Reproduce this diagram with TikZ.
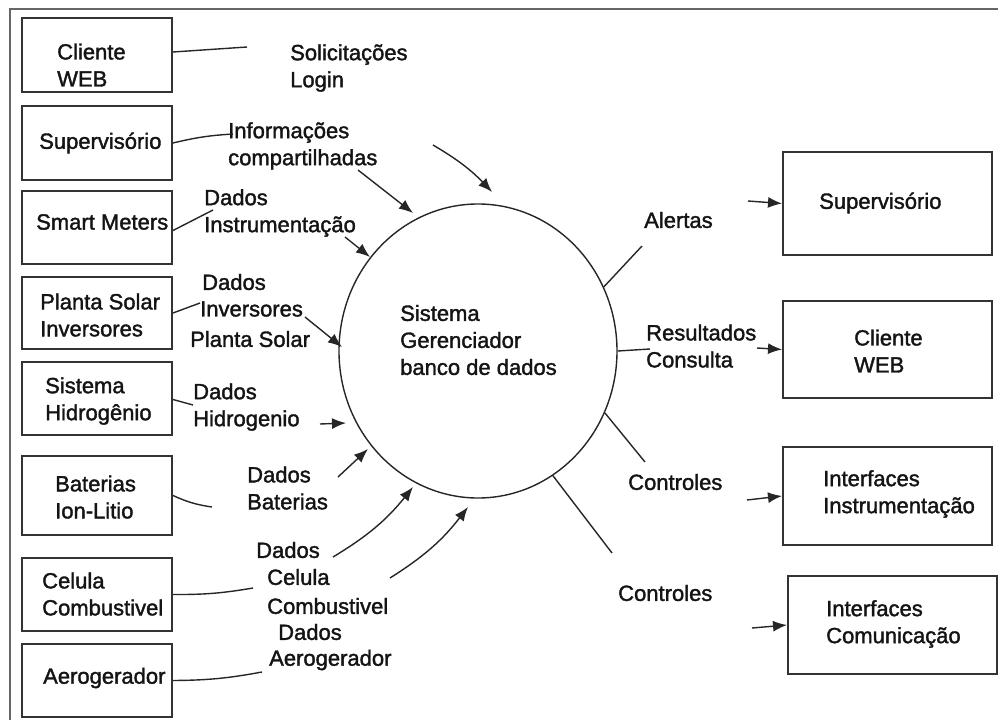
\documentclass[tikz,border=0pt]{standalone}
\usepackage{fontspec}
\setmainfont{Liberation Sans}
\newfontfamily\diafont{Liberation Sans}[FakeBold=1.6]
\usetikzlibrary{arrows.meta,shapes.geometric}
\begin{document}
\begin{tikzpicture}[x=1pt,y=-1pt,
  lbl/.style={font=\diafont\fontsize{22}{27}\selectfont, align=left, anchor=west, inner sep=0pt, text=black!92},
  box/.style={draw=black!80, line width=2pt, inner sep=0pt},
  lbox/.style={box, minimum width=150pt},
  rbox/.style={box, minimum width=209pt},
  wire/.style={draw=black!85, line width=1.4pt},
  flow/.style={wire, -{Latex[length=14pt,width=11pt]}},
]
\useasboundingbox (0,0) rectangle (998,720);
% outer frame (top and left edges)
\draw[black!60, line width=2pt] (10,720) -- (10,9) -- (998,9);

% ---- sources (left column)
\node[lbox, minimum height=74pt] (cw)  at (97,55)    {};
\node[lbox, minimum height=74pt] (sup) at (97,143)   {};
\node[lbox, minimum height=73pt] (sm)  at (97,227.5) {};
\node[lbox, minimum height=72pt] (ps)  at (97,313)   {};
\node[lbox, minimum height=73pt] (hid) at (97,398.5) {};
\node[lbox, minimum height=79pt] (bat) at (97,495.5) {};
\node[lbox, minimum height=73pt] (cel) at (97,594.5) {};
\node[lbox, minimum height=73pt] (aer) at (97,680.5) {};

\node[lbl] (tcw)  at (57,65)  {Cliente\\WEB};
\node[lbl] (tsup) at (39,143) {Supervisório};
\node[lbl] (tsm)  at (36,222) {Smart Meters};
\node[lbl] (tps)  at (40,315) {Planta Solar\\Inversores};
\node[lbl] (thid) at (45,401) {Sistema\\Hidrogênio};
\node[lbl] (tbat) at (55,497) {Baterias\\Ion-Litio};
\node[lbl] (tcel) at (42,594) {Celula\\Combustivel};
\node[lbl] (taer) at (43,678) {Aerogerador};

% ---- central process
\node[draw=black!85, line width=1.4pt, ellipse, minimum width=278pt, minimum height=294pt, inner sep=0pt] (db) at (478,351) {};
\node[lbl] (tdb) at (400,340) {Sistema\\Gerenciador\\banco de dados};

% ---- destinations (right column)
\node[rbox, minimum height=103pt] (rsup) at (887.5,203.5) {};
\node[rbox, minimum height=97pt]  (rcw)  at (887.5,349.5) {};
\node[rbox, minimum height=98pt]  (rii)  at (887.5,496)   {};
\node[rbox, minimum height=98pt]  (ric)  at (892.5,625)   {};

\node[lbl] (trsup) at (819,203) {Supervisório};
\node[lbl] (trcw)  at (854,351) {Cliente\\WEB};
\node[lbl] (trii)  at (823,494) {Interfaces\\Instrumentação};
\node[lbl] (tric)  at (826,624) {Interfaces\\Comunicação};

% ---- flow labels, input side
\node[lbl] (lsol) at (290,68)  {Solicitações\\Login};
\node[lbl] (linf) at (228,146) {Informações\\compartilhadas};
\node[lbl] (ldi)  at (204,213) {Dados\\Instrumentação};
\node[lbl] (lps1) at (202,282) {Dados};
\node[lbl] (lps2) at (200,309) {Inversores};
\node[lbl] (lps3) at (190,339) {Planta Solar};
\node[lbl] (ldh)  at (193,407) {Dados\\Hidrogenio};
\node[lbl] (ldb)  at (247,488) {Dados\\Baterias};
\node[lbl] (lc1)  at (256,550) {Dados};
\node[lbl] (lc2)  at (267,577) {Celula};
\node[lbl] (lc3)  at (267,606) {Combustivel};
\node[lbl] (lc4)  at (278,632) {Dados};
\node[lbl] (lc5)  at (269,660) {Aerogerador};

% ---- flow labels, output side
\node[lbl] (lal)  at (644,220) {Alertas};
\node[lbl] (lres) at (646,346) {Resultados\\Consulta};
\node[lbl] (lct1) at (628,482) {Controles};
\node[lbl] (lct2) at (618,593) {Controles};

% ---- free ends of the flows
\coordinate (e1) at (247,47);
\coordinate (e2) at (233,134);
\coordinate (e3) at (213,210);
\coordinate (e4) at (200,303);
\coordinate (e5) at (193,405);
\coordinate (e6) at (212,507);
\coordinate (e7) at (253,588);
\coordinate (e8) at (262,672);

\coordinate (a1s) at (358,170); \coordinate (a1e) at (413,213);
\coordinate (a2s) at (433,145); \coordinate (a2e) at (492,192);
\coordinate (a3s) at (345,237); \coordinate (a3e) at (370,257);
\coordinate (a4s) at (305,317); \coordinate (a4e) at (342,347);
\coordinate (a5s) at (320,424); \coordinate (a5e) at (346,423);
\coordinate (a6s) at (338,477); \coordinate (a6e) at (368,449);
\coordinate (a7s) at (333,557); \coordinate (a7e) at (413,487);
\coordinate (a8s) at (390,578); \coordinate (a8e) at (468,507);

\coordinate (o1) at (642,246);
\coordinate (o2) at (650,349);
\coordinate (o3) at (645,462);
\coordinate (o4) at (612,553);
\coordinate (p1) at (748,201);
\coordinate (p2) at (757,348);
\coordinate (p3) at (747,500);
\coordinate (p4) at (752,628);

% ---- source stubs
\draw[wire] ([yshift=3pt]cw.east) -- (e1);
\draw[wire] (sup.east) to[bend left=5] (e2);
\draw[wire] ([yshift=-3pt]sm.east) -- (e3);
\draw[wire] (ps.east) -- (e4);
\draw[wire] ([yshift=-1pt]hid.east) -- (e5);
\draw[wire] (bat.east) to[bend right=8] (e6);
\draw[wire] (cel.east) to[bend right=5] (e7);
\draw[wire] (aer.east) to[bend right=5] (e8);

% ---- arrows into the process
\draw[flow] (a1s) -- (a1e);
\draw[flow] (a2s) to[bend left=8] (a2e);
\draw[flow] (a3s) -- (a3e);
\draw[flow] (a4s) -- (a4e);
\draw[flow] (a5s) -- (a5e);
\draw[flow] (a6s) -- (a6e);
\draw[flow] (a7s) to[bend right=10] (a7e);
\draw[flow] (a8s) to[bend right=10] (a8e);

% ---- output stubs and arrows
\draw[wire] (db.27) -- (o1);
\draw[wire] (db.east) -- (o2);
\draw[wire] (db.-26) -- (o3);
\draw[wire] (db.-59) -- (o4);
\draw[flow] (p1) -- (rsup.west);
\draw[flow] (p2) -- (rcw.west);
\draw[flow] (p3) -- (rii.west);
\draw[flow] (p4) -- (ric.west);
\end{tikzpicture}
\end{document}
